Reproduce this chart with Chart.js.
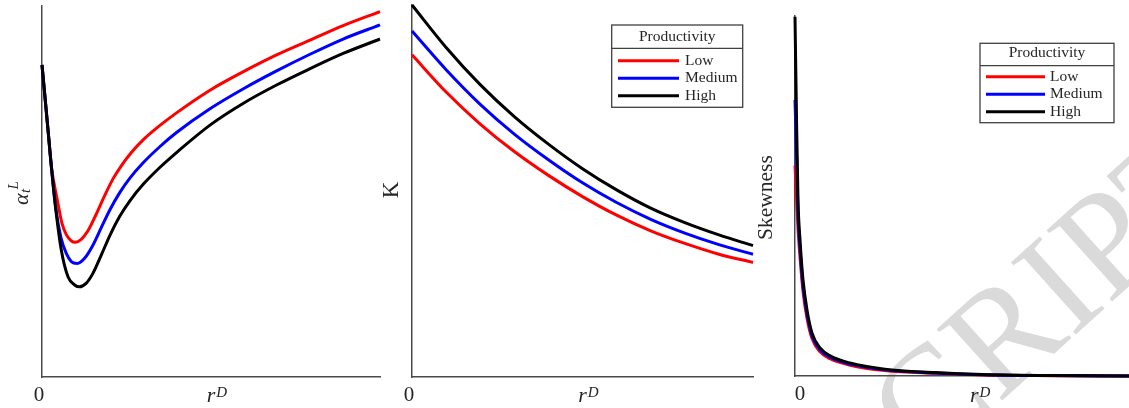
<!DOCTYPE html>
<html>
<head>
<meta charset="utf-8">
<script src="https://cdn.jsdelivr.net/npm/chart.js@4.4.1/dist/chart.umd.min.js"></script>
<style>
html,body{margin:0;padding:0;background:#fff;overflow:hidden;width:1129px;height:408px}
canvas{position:absolute;left:0;top:0;width:1129px;height:408px}
</style>
</head>
<body>
<canvas id="c1" width="1129" height="408"></canvas>
<canvas id="c2" width="1129" height="408"></canvas>
<canvas id="c3" width="1129" height="408"></canvas>
<script>
// ---------- data ----------
const seriesNames = ['Low', 'Medium', 'High'];
const seriesColors = ['#ff0000', '#0000ff', '#000000'];
const legendTitle = 'Productivity';
const xTickValues = [0];
const xTickLabels = ['0'];
const xLabelBase = 'r';
const xLabelSup = 'D';
const p1LabelBase = '\u03B1';
const p1LabelSub = 't';
const p1LabelSup = 'L';
const p2Label = 'K';
const p3Label = 'Skewness';
const watermarkText = 'CRIPT';

// Panel 1: alpha_t^L vs r^D
const p1LowX  = [0, 0.0178, 0.0275, 0.0453, 0.0592, 0.0725, 0.0985, 0.116, 0.136, 0.161, 0.185, 0.21, 0.235, 0.265, 0.300, 0.35, 0.398, 0.497, 0.596, 0.694, 0.793, 0.891, 1];
const p1LowY  = [84.1, 66.6, 56.9, 47.7, 41.4, 38.3, 36.3, 37.1, 39.4, 44.0, 48.8, 53.4, 57.0, 60.6, 64.0, 67.9, 71.2, 77.3, 82.3, 86.8, 90.8, 94.7, 98.5];
const p1MedX  = [0, 0.0178, 0.0275, 0.0414, 0.0562, 0.0719, 0.0867, 0.104, 0.126, 0.151, 0.175, 0.201, 0.23, 0.26, 0.300, 0.35, 0.398, 0.497, 0.596, 0.694, 0.793, 0.891, 1];
const p1MedY  = [84.1, 66.6, 56.9, 45.0, 37.5, 33.3, 31.1, 30.6, 32.0, 35.6, 40.2, 45.1, 49.7, 53.6, 57.8, 62.2, 65.9, 72.3, 77.7, 82.5, 87.0, 91.1, 94.9];
const p1HighX = [0, 0.0178, 0.0275, 0.0376, 0.0571, 0.0769, 0.0967, 0.1115, 0.131, 0.151, 0.175, 0.201, 0.23, 0.26, 0.300, 0.35, 0.398, 0.497, 0.596, 0.694, 0.793, 0.891, 1];
const p1HighY = [84.1, 66.6, 56.9, 47.7, 34.2, 27.0, 24.8, 24.3, 25.3, 28.0, 32.8, 38.2, 43.3, 47.5, 52.0, 56.6, 60.5, 67.9, 73.8, 78.7, 83.1, 87.2, 91.1];

// Panel 2: K vs r^D
const p2X     = [0, 0.1, 0.2, 0.3, 0.4, 0.5, 0.6, 0.7, 0.8, 0.9, 1];
const p2LowY  = [86.6, 76.6, 68.0, 60.6, 54.2, 48.5, 43.5, 39.3, 35.9, 33.0, 30.8];
const p2MedY  = [93.0, 82.6, 73.3, 65.3, 58.4, 52.2, 46.9, 42.4, 38.7, 35.6, 33.0];
const p2HighY = [100, 88.6, 78.6, 70.0, 62.6, 56.0, 50.3, 45.4, 41.5, 38.2, 35.3];

// Panel 3: Skewness vs r^D
const p3X     = [0, 0.0045, 0.009, 0.015, 0.024, 0.036, 0.051, 0.075, 0.105, 0.165, 0.269, 0.419, 0.563, 0.763, 1];
const p3LowY  = [58.4, 50, 41, 33, 23.5, 16, 10.4, 6.7, 4.8, 3.0, 1.5, 0.75, 0.3, 0.1, 0];
const p3MedY  = [76.7, 62, 45, 35.5, 25, 17.2, 11.2, 7.3, 5.2, 3.3, 1.7, 0.85, 0.37, 0.12, 0];
const p3HighY = [99.8, 71.7, 48.9, 37.8, 26.7, 18.3, 11.9, 7.8, 5.6, 3.6, 1.9, 0.97, 0.42, 0.14, 0];

// ---------- styling ----------
const FONT = '"Liberation Serif", "Times New Roman", serif';
const TEXT = '#262626';
const AXIS = '#4a4a4a';

const decor = {
  id: 'decor',
  beforeDraw(chart, args, o) {
    if (!o.watermark) return;
    const ctx = chart.ctx, w = o.watermark;
    ctx.save();
    ctx.translate(w.x, w.y);
    ctx.rotate(w.angle * Math.PI / 180);
    ctx.font = w.size + 'px ' + FONT;
    ctx.fillStyle = '#dadada';
    ctx.textBaseline = 'alphabetic';
    ctx.textAlign = 'left';
    ctx.fillText(w.text, 0, 0);
    ctx.restore();
  },
  afterDraw(chart, args, o) {
    const ctx = chart.ctx;
    ctx.save();
    ctx.fillStyle = TEXT;
    ctx.textAlign = 'left';
    ctx.textBaseline = 'alphabetic';
    // x label r^D
    ctx.font = 'italic 22px ' + FONT;
    ctx.fillText(xLabelBase, o.xLabelX, 402);
    const rw = ctx.measureText(xLabelBase).width;
    ctx.font = 'italic 15px ' + FONT;
    ctx.fillText(xLabelSup, o.xLabelX + rw + 1, 397);
    // y label
    const yl = o.yLabel;
    ctx.save();
    ctx.translate(yl.x, yl.y);
    ctx.rotate(-Math.PI / 2);
    if (yl.kind === 'alpha') {
      ctx.font = 'italic 22px ' + FONT;
      ctx.fillText(p1LabelBase, 0, 0);
      const aw = ctx.measureText(p1LabelBase).width;
      ctx.font = 'italic 15px ' + FONT;
      ctx.fillText(p1LabelSub, aw + 0.5, 2);
      ctx.fillText(p1LabelSup, aw + 4, -10);
    } else {
      ctx.font = yl.size + 'px ' + FONT;
      ctx.fillText(yl.text, 0, 0);
    }
    ctx.restore();
    // legend
    const L = o.legend;
    if (L) {
      ctx.strokeStyle = '#404040';
      ctx.lineWidth = 1.3;
      ctx.fillStyle = '#ffffff';
      ctx.fillRect(L.x, L.y, L.w, L.h);
      ctx.strokeRect(L.x, L.y, L.w, L.h);
      ctx.beginPath();
      ctx.moveTo(L.x, L.y + L.divDy);
      ctx.lineTo(L.x + L.w, L.y + L.divDy);
      ctx.stroke();
      ctx.fillStyle = TEXT;
      ctx.font = '15.5px ' + FONT;
      ctx.textAlign = 'center';
      ctx.fillText(legendTitle, L.x + L.w / 2, L.y + L.titleDy);
      ctx.textAlign = 'left';
      chart.data.datasets.forEach((ds, i) => {
        const yy = L.y + L.rowDy + i * L.rowGap;
        ctx.strokeStyle = ds.borderColor;
        ctx.lineWidth = 3;
        ctx.beginPath();
        ctx.moveTo(L.x + L.lineX, yy);
        ctx.lineTo(L.x + L.lineX + L.lineLen, yy);
        ctx.stroke();
        ctx.fillStyle = TEXT;
        ctx.fillText(ds.label, L.x + L.textX, yy + 4);
      });
    }
    ctx.restore();
  }
};

function makeDatasets(xsList, ysList) {
  return seriesNames.map((name, i) => ({
    label: name,
    data: xsList[i].map((x, j) => ({ x: x, y: ysList[i][j] })),
    borderColor: seriesColors[i],
    borderWidth: 3,
    pointRadius: 0,
    cubicInterpolationMode: 'monotone',
    fill: false,
    clip: false,
    order: 3 - i
  }));
}

function makeChart(id, datasets, pad, tickOffset, decorOpts) {
  return new Chart(document.getElementById(id), {
    type: 'line',
    data: { datasets: datasets },
    plugins: [decor],
    options: {
      responsive: false,
      devicePixelRatio: 1,
      animation: false,
      layout: { padding: pad },
      plugins: { legend: { display: false }, tooltip: { enabled: false }, decor: decorOpts },
      scales: {
        x: {
          type: 'linear', min: 0, max: 1,
          grid: { display: false, drawTicks: false },
          border: { display: true, color: AXIS, width: 1.5 },
          ticks: {
            font: { family: FONT, size: 21 }, color: TEXT, padding: 6,
            labelOffset: tickOffset, maxRotation: 0, autoSkip: false,
            callback: (v) => { const k = xTickValues.indexOf(v); return k >= 0 ? xTickLabels[k] : ''; }
          },
          afterBuildTicks: (s) => { s.ticks = xTickValues.map(v => ({ value: v })); },
          afterFit: (s) => { s.height = pad.axisH; }
        },
        y: {
          type: 'linear', min: 0, max: 100,
          grid: { display: false, drawTicks: false },
          border: { display: true, color: AXIS, width: 1.5 },
          ticks: { display: false },
          afterFit: (s) => { s.width = 0; }
        }
      }
    }
  });
}

makeChart('c1',
  makeDatasets([p1LowX, p1MedX, p1HighX], [p1LowY, p1MedY, p1HighY]),
  { left: 42, right: 749, top: 6, bottom: 0, axisH: 31 }, -3,
  { xLabelX: 206.7, yLabel: { kind: 'alpha', x: 28, y: 205 } });

makeChart('c2',
  makeDatasets([p2X, p2X, p2X], [p2LowY, p2MedY, p2HighY]),
  { left: 412, right: 376, top: 5, bottom: 0, axisH: 31 }, -3,
  { xLabelX: 578.3, yLabel: { kind: 'text', text: p2Label, size: 23, x: 398, y: 198.3 },
    legend: { x: 611.7, y: 25, w: 131, h: 82.3, titleDy: 15.7, divDy: 23.3, rowDy: 35.7, rowGap: 17.5, lineX: 6.3, lineLen: 61, textX: 73.3 } });

makeChart('c3',
  makeDatasets([p3X, p3X, p3X], [p3LowY, p3MedY, p3HighY]),
  { left: 795, right: 0, top: 16, bottom: 0, axisH: 32 }, 5,
  { xLabelX: 970, yLabel: { kind: 'text', text: p3Label, size: 21.5, x: 771.7, y: 240 },
    legend: { x: 980, y: 43.3, w: 134, h: 79.4, titleDy: 14, divDy: 22.4, rowDy: 33.4, rowGap: 17.5, lineX: 6, lineLen: 59, textX: 70 },
    watermark: { text: watermarkText, x: 925, y: 470, angle: -42, size: 148 } });
</script>
</body>
</html>
